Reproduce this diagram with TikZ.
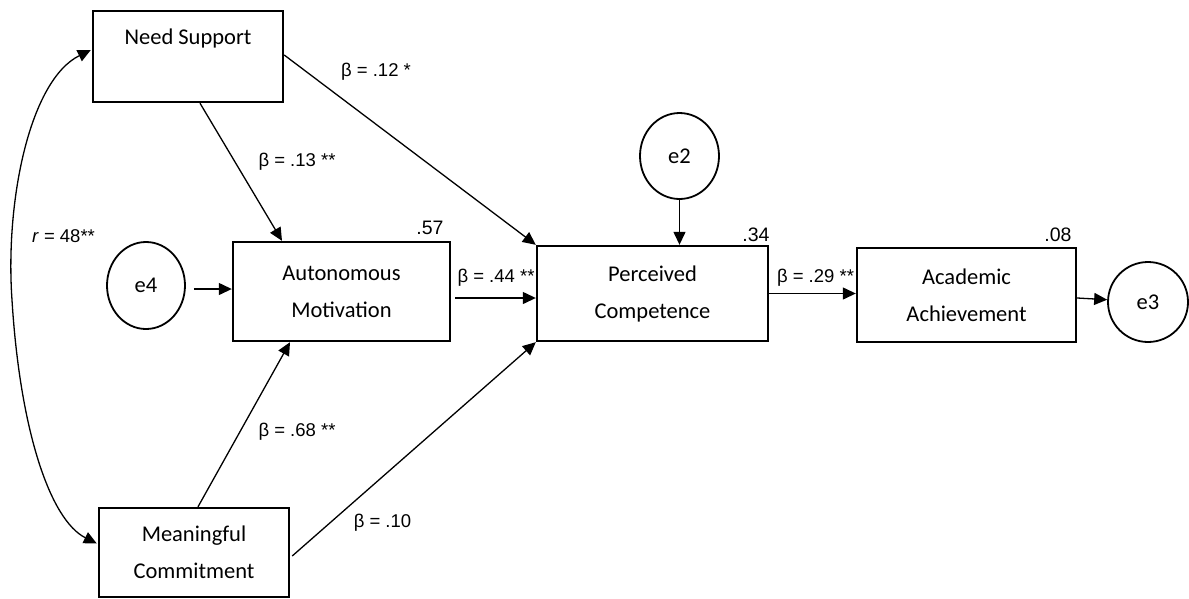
\documentclass[tikz,border=0pt]{standalone}
\usepackage{fontspec}
\setmainfont{Carlito}
\newfontfamily\labelfont{Liberation Sans}
\usetikzlibrary{arrows.meta,shapes.geometric,calc}
\begin{document}
\begin{tikzpicture}[x=1pt,y=-1pt,
  box/.style={draw,line width=2.4pt,inner sep=0pt,align=center,
    font=\fontsize{22.5}{37}\selectfont},
  err/.style={draw,ellipse,line width=1.8pt,inner sep=0pt,
    font=\fontsize{22.5}{27}\selectfont},
  link/.style={line width=1.3pt,-{Triangle[length=13pt,width=12pt]}},
  coef/.style={font=\labelfont\fontsize{18.5}{22}\selectfont,inner sep=0pt},
  rsq/.style={font=\labelfont\fontsize{19.5}{23}\selectfont,inner sep=0pt}]

\useasboundingbox (0,0) rectangle (1189,598);

% observed variables
\node[box,minimum width=190,minimum height=91] (ns) at (188,56.5) {Need Support\\[-8pt]\strut};
\node[box,minimum width=217,minimum height=99] (am) at (341.5,291.5) {Autonomous\\Motivation};
\node[box,minimum width=231,minimum height=95] (pc) at (652.5,293.5) {Perceived\\Competence};
\node[box,minimum width=219,minimum height=94] (aa) at (966.5,295) {Academic\\Achievement};
\node[box,minimum width=190,minimum height=89] (mc) at (194,552.5) {Meaningful\\Commitment};

% error terms
\node[err,minimum width=78,minimum height=87] (e4) at (146,285.5) {e4};
\node[err,minimum width=79,minimum height=86] (e2) at (679.5,156) {e2};
\node[err,minimum width=80,minimum height=80] (e3) at (1148,302) {e3};

% structural paths
\draw[link] ($(ns.south)+(12,0)$) -- ($(am.north)+(-59.5,0)$);
\draw[link] ($(ns.east)+(0,-1.5)$) -- (pc.north west);
\draw[link] (e2.south) -- (e2.south |- pc.north);
\draw[link] ($(e4.east)+(8,3.5)$) -- ($(am.west)+(0,-2.5)$);
\draw[link] ($(am.east)+(4,6.5)$) -- ($(pc.west)+(0,4.5)$);
\draw[link] ($(mc.north)+(4,0)$) -- ($(am.south)+(-51.5,0)$);
\draw[link] ($(mc.east)+(2,3.5)$) -- (pc.south west);
\draw[link] (pc.east) -- (pc.east -| aa.west);
\draw[link] ($(aa.east)+(0,3)$) -- (e3);

% correlation between exogenous variables
\draw[line width=1.3pt,{Triangle[length=13pt,width=12pt]}-{Triangle[length=13pt,width=12pt]}]
  ($(ns.west)+(-1,-6.5)$) .. controls (30,80) and (5,200) .. (12,300)
  .. controls (20,430) and (50,520) .. ($(mc.west)+(-1,-9)$);

% coefficients
\node[coef] (b12) at (376,72) {β = .12 *};
\node[coef] (b13) at (297,162) {β = .13 **};
\node[coef] (r48) at (63.5,236) {\textit{r} = 48**};
\node[coef] (b44) at (496,278) {β = .44 **};
\node[coef] (b29) at (815.5,278) {β = .29 **};
\node[coef] (b68) at (297,432) {β = .68 **};
\node[coef] (b10) at (382.5,523) {β = .10};

% explained variance
\node[rsq] (r57) at (430,228) {.57};
\node[rsq] (r34) at (756,235) {.34};
\node[rsq] (r08) at (1058,235) {.08};
\end{tikzpicture}
\end{document}
